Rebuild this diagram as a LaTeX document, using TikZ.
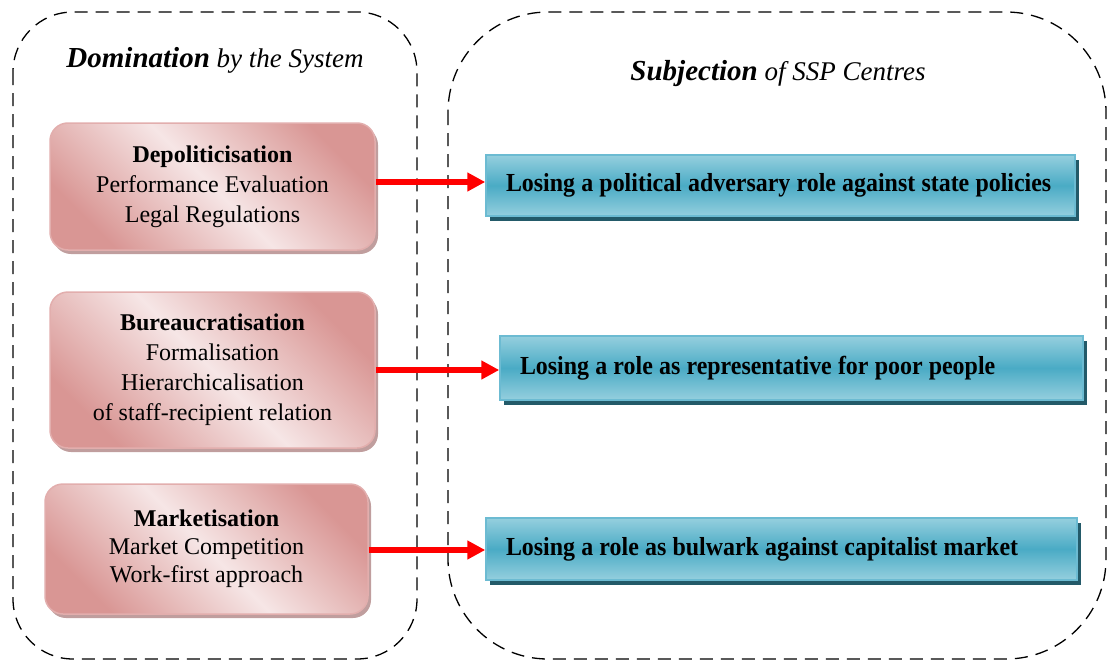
\documentclass[tikz,border=0pt]{standalone}
\usepackage{fontspec}
\setmainfont{Liberation Serif}
\newfontfamily\effectfont[FakeStretch=0.92]{Liberation Serif}
\newcommand{\effecttext}[1]{\mbox{\spaceskip=6.2pt\relax #1}}
\usetikzlibrary{shadows,arrows.meta}

\definecolor{pinkdark}{HTML}{D99694}
\definecolor{pinklight}{HTML}{F6E6E6}
\definecolor{pinkedge}{HTML}{E2AEAD}
\definecolor{pinkshadow}{HTML}{B99493}
\definecolor{tealtop}{HTML}{95CFDE}
\definecolor{tealmid}{HTML}{4AABC5}
\definecolor{tealedge}{HTML}{6CBBD2}
\definecolor{tealshadow}{HTML}{235A69}

\tikzset{
  frame/.style={draw=black, line width=1.3pt, dash pattern=on 13pt off 8pt},
  heading/.style={inner sep=0pt, font=\fontsize{27}{30}\selectfont\itshape},
  cause/.style={rectangle, rounded corners=18pt, draw=pinkedge, line width=1.5pt,
    top color=pinkdark, bottom color=pinkdark, middle color=pinklight, shading angle=-45,
    drop shadow={shadow xshift=3pt, shadow yshift=-4pt, fill=pinkshadow, opacity=0.9},
    align=center, inner sep=0pt, font=\fontsize{24}{30}\selectfont},
  effect/.style={rectangle, draw=tealedge, line width=1.5pt,
    top color=tealtop, bottom color=tealtop, middle color=tealmid,
    drop shadow={shadow xshift=4pt, shadow yshift=-5pt, fill=tealshadow, opacity=1},
    align=left, inner xsep=20pt, inner ysep=0pt, minimum height=61pt,
    font=\effectfont\fontsize{26}{28}\selectfont\bfseries},
  link/.style={draw=red, line width=6pt, -{Triangle[length=18pt,width=18pt]}}
}

\begin{document}
\begin{tikzpicture}[x=1pt, y=-1pt]
  \useasboundingbox (0,0) rectangle (1107,661);

  % dashed frames
  \draw[frame, rounded corners=60pt] (13,12) rectangle (417,659);
  \draw[frame, rounded corners=100pt] (448,12) rectangle (1106,659);

  % headings
  \node[heading] (domTitle) at (215,60) {{\fontsize{29}{30}\selectfont\bfseries Domination} by the System};
  \node[heading] (subTitle) at (778,74) {{\fontsize{29}{30}\selectfont\bfseries Subjection} of SSP Centres};

  % mechanisms of domination
  \node[cause, minimum width=325pt, minimum height=127pt] (dep) at (212.5,186.5)
    {\textbf{Depoliticisation}\\Performance Evaluation\\Legal Regulations};
  \node[cause, minimum width=325pt, minimum height=156pt] (bur) at (212.5,370)
    {\textbf{Bureaucratisation}\\Formalisation\\Hierarchicalisation\\of staff-recipient relation};
  \node[cause, minimum width=323pt, minimum height=130pt, font=\fontsize{24}{28}\selectfont] (mar) at (206.5,549)
    {\textbf{Marketisation}\\Market Competition\\Work-first approach};

  % consequences for the centres
  \node[effect, text width=549pt] (pol) at (780.5,185.5)
    {\effecttext{Losing a political adversary role against state policies}};
  \node[effect, text width=543pt, minimum height=64pt] (rep) at (791.5,368)
    {\effecttext{Losing a role as representative for poor people}};
  \node[effect, text width=551pt, minimum height=62pt] (bul) at (781.5,549)
    {\effecttext{Losing a role as bulwark against capitalist market}};

  % connectors
  \draw[link] (dep.east |- 0,182) -- (pol.west |- 0,182);
  \draw[link] (bur.east |- 0,370) -- (rep.west |- 0,370);
  \draw[link] (mar.east |- 0,550) -- (bul.west |- 0,550);
\end{tikzpicture}
\end{document}
